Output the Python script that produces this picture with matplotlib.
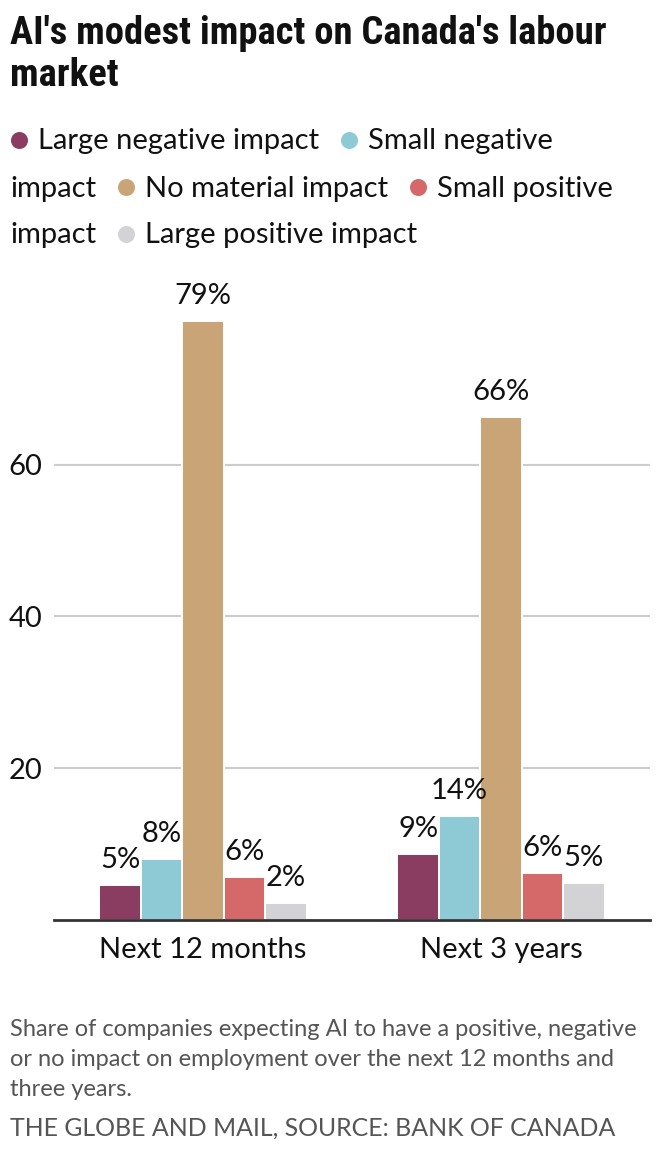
import matplotlib
matplotlib.use("Agg")
import matplotlib.pyplot as plt
from matplotlib.lines import Line2D
from matplotlib import font_manager
import numpy as np

# ---------------- data ----------------
categories = ["Next 12 months", "Next 3 years"]
series_names = ["Large negative impact", "Small negative impact", "No material impact",
                "Small positive impact", "Large positive impact"]
large_negative = [4.6, 8.7]
small_negative = [8.0, 13.7]
no_material = [78.9, 66.3]
small_positive = [5.7, 6.2]
large_positive = [2.2, 4.9]
series_values = [large_negative, small_negative, no_material, small_positive, large_positive]
series_colors = ["#8b3d61", "#8ecad5", "#c8a477", "#d56868", "#d3d3d5"]
yticks = [20, 40, 60]

title_lines = ["AI's modest impact on Canada's labour", "market"]
caption_lines = ["Share of companies expecting AI to have a positive, negative",
                 "or no impact on employment over the next 12 months and",
                 "three years."]
source_text = "THE GLOBE AND MAIL, SOURCE: BANK OF CANADA"

# ---------------- fonts ----------------
available = {f.name for f in font_manager.fontManager.ttflist}
body_font = "Lato" if "Lato" in available else "DejaVu Sans"
title_font = body_font
for cand in ["Liberation Sans Narrow", "Roboto Condensed", "Open Sans Condensed", "Lato"]:
    if cand in available:
        title_font = cand
        break
plt.rcParams["font.family"] = [body_font, "DejaVu Sans"]

W, H = 660, 1152
fig = plt.figure(figsize=(W / 100, H / 100), dpi=100)
fig.patch.set_facecolor("white")
renderer = fig.canvas.get_renderer()


def fx(x):
    return x / W


def fy(y):
    return 1 - y / H


def fit_text(x, y, s, target_w, max_size, **kw):
    t = fig.text(fx(x), fy(y), s, fontsize=max_size, va="baseline", ha="left", **kw)
    w = t.get_window_extent(renderer).width
    size = min(max_size, max_size * target_w / w)
    t.set_fontsize(size)
    return t, size


# ---------------- title ----------------
t, tsize = fit_text(10, 44, title_lines[0], 597, 30, family=[title_font, "DejaVu Sans"],
                    fontweight="bold", color="#111111")
fig.text(fx(10), fy(86), title_lines[1], fontsize=tsize, va="baseline", ha="left",
         family=[title_font, "DejaVu Sans"], fontweight="bold", color="#111111")

# ---------------- legend (flowing text) ----------------
legend_lines = [
    [(0, "Large negative impact"), (1, "Small negative")],
    [(None, "impact"), (2, "No material impact"), (3, "Small positive")],
    [(None, "impact"), (4, "Large positive impact")],
]
leg_centers = [139.5, 186.5, 233.5]
leg_size = 21
dot_d = 17
for line, cy in zip(legend_lines, leg_centers):
    x = 10
    for idx, txt in line:
        if idx is not None:
            fig.add_artist(Line2D([fx(x + dot_d / 2)], [fy(cy)], marker="o",
                                  markersize=dot_d * 0.72, markeredgewidth=0,
                                  color=series_colors[idx], transform=fig.transFigure))
            x += dot_d + 11
        tt = fig.text(fx(x), fy(cy + 10), txt, fontsize=leg_size, va="baseline",
                      ha="left", color="#111111")
        x += tt.get_window_extent(renderer).width + 21

# ---------------- axes ----------------
ax_left, ax_right, ax_bottom, ax_top = 54, 650, 920, 290
ax = fig.add_axes([fx(ax_left), fy(ax_bottom), (ax_right - ax_left) / W,
                   (ax_bottom - ax_top) / H])
ax.set_xlim(-0.5, 1.5)
ax.set_ylim(0, 83)

xpos = np.arange(len(categories))
bw = 0.139
lab_size = 21
for i, (vals, col) in enumerate(zip(series_values, series_colors)):
    xs = xpos + (i - 2) * bw
    ax.bar(xs, vals, bw, color=col, edgecolor="white", linewidth=1.4, zorder=3)
    for xx, v in zip(xs, vals):
        ax.annotate(f"{int(round(v))}%", (xx, v), xytext=(0, 12.2),
                    textcoords="offset points", ha="center", va="baseline",
                    fontsize=lab_size, color="#111111", zorder=5)

ax.set_yticks(yticks)
ax.set_yticklabels([str(v) for v in yticks])
ax.yaxis.grid(True, color="#cccccc", linewidth=1.5)
ax.set_axisbelow(True)
ax.set_xticks(xpos)
ax.set_xticklabels(categories)
for side in ["top", "right", "left"]:
    ax.spines[side].set_visible(False)
ax.spines["bottom"].set_color("#333333")
ax.spines["bottom"].set_linewidth(2)
ax.spines["bottom"].set_zorder(6)
ax.tick_params(axis="y", length=0, pad=8.6, labelsize=lab_size, labelcolor="#111111")
ax.tick_params(axis="x", length=0, pad=12, labelsize=lab_size, labelcolor="#111111")
ax.set_facecolor("white")

# ---------------- caption & source ----------------
cap_base = [1036, 1066, 1096]
t0, csize = fit_text(10, cap_base[0], caption_lines[0], 627, 18, color="#555555")
for s, yb in zip(caption_lines[1:], cap_base[1:]):
    fig.text(fx(10), fy(yb), s, fontsize=csize, va="baseline", ha="left", color="#555555")
fit_text(10, 1136, source_text, 604, 18, color="#555555")

fig.savefig("out.png", dpi=100, facecolor="white")
